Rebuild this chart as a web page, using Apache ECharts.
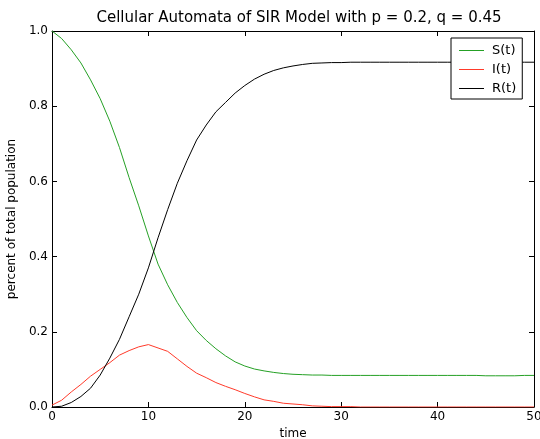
<!DOCTYPE html>
<html>
<head>
<meta charset="utf-8">
<script src="https://cdn.jsdelivr.net/npm/echarts@6/dist/echarts.min.js"></script>
<style>html,body{margin:0;padding:0;background:#fff;}#c{width:540px;height:439px;}</style>
</head>
<body>
<div id="c"></div>
<script>
const time = [];
for (let t = 0; t <= 50; t++) time.push(t);
const S = [1.0,0.98,0.95,0.915,0.87,0.82,0.76,0.69,0.61,0.535,0.455,0.38,0.325,0.278,0.238,0.203,0.177,0.155,0.136,0.12,0.109,0.101,0.096,0.092,0.089,0.087,0.086,0.085,0.085,0.084,0.084,0.084,0.084,0.084,0.084,0.084,0.084,0.084,0.084,0.084,0.084,0.084,0.084,0.084,0.084,0.083,0.083,0.083,0.083,0.084,0.084];
const I = [0.005,0.018,0.04,0.06,0.082,0.1,0.118,0.138,0.15,0.16,0.166,0.157,0.148,0.128,0.108,0.09,0.078,0.065,0.055,0.046,0.036,0.027,0.019,0.015,0.01,0.008,0.006,0.003,0.002,0.001,0.001,0.001,0,0,0,0,0,0,0,0,0,0,0,0,0,0,0,0,0,0,0];
const R = [0,0.002,0.012,0.028,0.05,0.085,0.13,0.18,0.24,0.3,0.37,0.45,0.525,0.595,0.655,0.71,0.75,0.785,0.81,0.835,0.855,0.872,0.885,0.895,0.902,0.907,0.911,0.914,0.915,0.916,0.916,0.917,0.917,0.917,0.917,0.917,0.917,0.917,0.917,0.917,0.917,0.917,0.917,0.917,0.917,0.917,0.917,0.917,0.917,0.917,0.917];
const seriesNames = ['S(t)','I(t)','R(t)'];
const seriesColors = ['#25a025','#ff3a2a','#000000'];
const xTicks = [0,10,20,30,40,50];
const yTicks = [0.0,0.2,0.4,0.6,0.8,1.0];

const font = 'DejaVu Sans';
const chart = echarts.init(document.getElementById('c'), null, {renderer:'canvas'});
const pairs = arr => time.map((t,i)=>[t,arr[i]]);
const baseAxis = {
  axisLine:{show:true,onZero:false,lineStyle:{color:'#000',width:1}},
  axisTick:{show:true,inside:true,length:5,lineStyle:{color:'#000'}},
  splitLine:{show:false}
};
chart.setOption({
  animation:false,
  backgroundColor:'#fff',
  color:seriesColors,
  title:{text:'Cellular Automata of SIR Model with p = 0.2, q = 0.45',left:294,top:6,textAlign:'center',
    textStyle:{fontFamily:font,fontSize:15,fontWeight:'normal',color:'#000'}},
  grid:{left:52,top:31,right:6,bottom:32,containLabel:false,outerBoundsMode:'none'},
  legend:{orient:'vertical',left:451,top:38,padding:[6,6,4,8],itemGap:6,itemWidth:25,itemHeight:10,
    borderColor:'#000',borderWidth:1,backgroundColor:'#fff',
    textStyle:{fontFamily:font,fontSize:13,color:'#000',padding:[0,0,0,3]},
    data:seriesNames.map((n,i)=>({name:n,icon:'path://M0,4.5 L25,4.5 L25,5.5 L0,5.5 Z',itemStyle:{color:seriesColors[i]}}))},
  xAxis:[
    Object.assign({type:'value',min:xTicks[0],max:xTicks[xTicks.length-1],interval:10,position:'bottom',
      name:'time',nameLocation:'middle',nameGap:18,nameTextStyle:{fontFamily:font,fontSize:12,color:'#000'},
      axisLabel:{fontFamily:font,fontSize:12,color:'#000',margin:4}},baseAxis),
    Object.assign({type:'value',min:xTicks[0],max:xTicks[xTicks.length-1],interval:10,position:'top',
      axisLabel:{show:false}},baseAxis)
  ],
  yAxis:[
    Object.assign({type:'value',min:yTicks[0],max:yTicks[yTicks.length-1],interval:0.2,position:'left',
      name:'percent of total population',nameLocation:'middle',nameGap:34,nameRotate:90,
      nameTextStyle:{fontFamily:font,fontSize:12,color:'#000'},
      axisLabel:{fontFamily:font,fontSize:12,color:'#000',margin:4,formatter:v=>v.toFixed(1)}},baseAxis),
    Object.assign({type:'value',min:yTicks[0],max:yTicks[yTicks.length-1],interval:0.2,position:'right',
      axisLabel:{show:false}},baseAxis)
  ],
  series:[S,I,R].map((arr,i)=>({name:seriesNames[i],type:'line',data:pairs(arr),showSymbol:false,symbol:'none',
    color:seriesColors[i],lineStyle:{color:seriesColors[i],width:1},itemStyle:{color:seriesColors[i]},xAxisIndex:0,yAxisIndex:0}))
});
</script>
</body>
</html>
